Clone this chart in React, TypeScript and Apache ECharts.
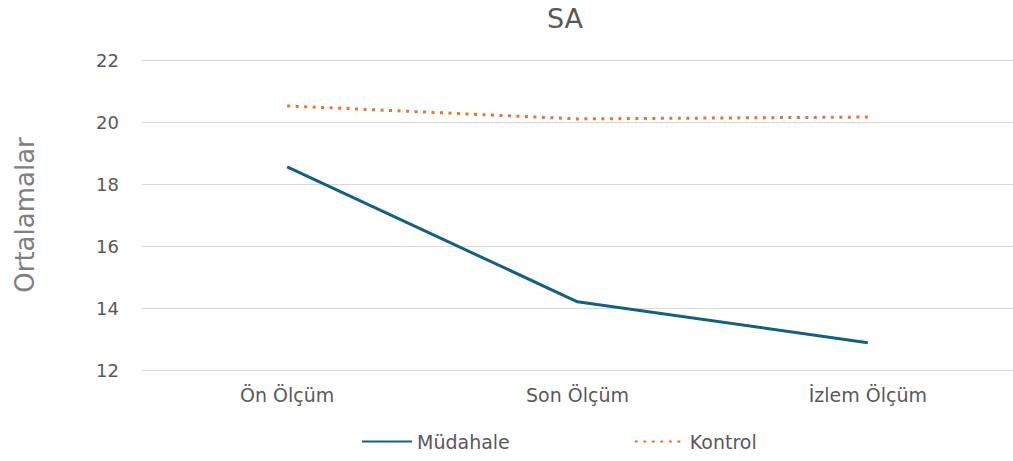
import React, { useEffect, useRef } from "react";
import * as echarts from "echarts";

const categories = ["Ön Ölçüm", "Son Ölçüm", "İzlem Ölçüm"];
const mudahale = [18.55, 14.2, 12.88];
const kontrol = [20.52, 20.1, 20.16];
const yTicks = { min: 12, max: 22, interval: 2 };

const FONT = "'DejaVu Sans', 'Noto Sans', sans-serif";

export default function App() {
  const ref = useRef<HTMLDivElement>(null);
  useEffect(() => {
    if (!ref.current) return;
    const chart = echarts.init(ref.current, undefined, { renderer: "svg" });
    chart.setOption({
      animation: false,
      backgroundColor: "#ffffff",
      title: {
        text: "SA",
        left: 560,
        top: 0,
        textAlign: "center",
        textStyle: { fontFamily: FONT, fontSize: 27, fontWeight: "normal", color: "#595959" },
      },
      grid: { left: 142, right: 0, top: 60, bottom: 91 },
      legend: {
        left: 356,
        top: 427,
        itemWidth: 50,
        itemHeight: 14,
        itemGap: 124,
        itemStyle: { opacity: 0 },
        textStyle: { fontFamily: FONT, fontSize: 19, color: "#595959" },
        data: ["Müdahale", "Kontrol"],
      },
      xAxis: {
        type: "category",
        data: categories,
        boundaryGap: true,
        axisLine: { show: true, lineStyle: { color: "#d9d9d9", width: 1 } },
        axisTick: { show: false },
        axisLabel: { margin: 15, fontFamily: FONT, fontSize: 19, color: "#595959" },
      },
      yAxis: {
        type: "value",
        min: yTicks.min,
        max: yTicks.max,
        interval: yTicks.interval,
        name: "Ortalamalar",
        nameLocation: "middle",
        nameGap: 104,
        nameTextStyle: { fontFamily: FONT, fontSize: 26, color: "#808080" },
        axisLine: { show: false },
        axisTick: { show: false },
        axisLabel: { margin: 23, fontFamily: FONT, fontSize: 18, color: "#595959" },
        splitLine: { lineStyle: { color: "#d9d9d9", width: 1 } },
      },
      series: [
        {
          name: "Müdahale",
          type: "line",
          data: mudahale,
          symbol: "none",
          color: "#156082",
          lineStyle: { color: "#156082", width: 3 },
        },
        {
          name: "Kontrol",
          type: "line",
          data: kontrol,
          symbol: "none",
          color: "#E97132",
          lineStyle: { color: "#E97132", width: 3, type: [3, 5.5] },
        },
      ],
    });
    return () => chart.dispose();
  }, []);
  return (
    <div
      ref={ref}
      style={{ position: "fixed", left: 0, top: 0, width: 1013, height: 461, background: "#fff" }}
    />
  );
}
